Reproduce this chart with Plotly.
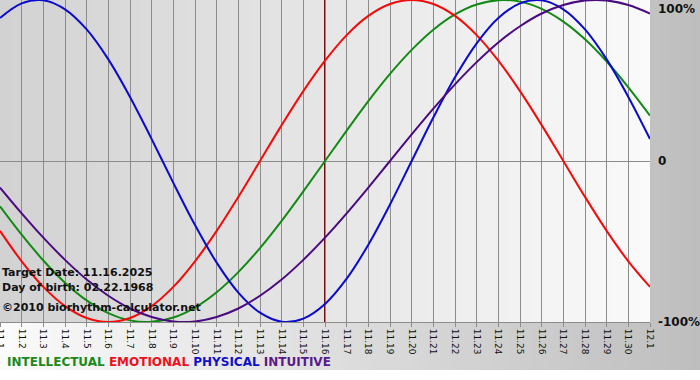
import plotly.graph_objects as go

# ---- data ----
dates = ["11.1", "11.2", "11.3", "11.4", "11.5", "11.6", "11.7", "11.8", "11.9", "11.10",
         "11.11", "11.12", "11.13", "11.14", "11.15", "11.16", "11.17", "11.18", "11.19", "11.20",
         "11.21", "11.22", "11.23", "11.24", "11.25", "11.26", "11.27", "11.28", "11.29", "11.30",
         "12.1"]

intellectual = [-28.2, -45.8, -61.8, -75.6, -86.6, -94.5, -99.0, -99.9, -97.2, -91.0, -81.5,
                -69.0, -54.1, -37.2, -18.9, 0.0, 18.9, 37.2, 54.1, 69.0, 81.5, 91.0, 97.2, 99.9,
                99.0, 94.5, 86.6, 75.6, 61.8, 45.8, 28.2]
emotional = [-43.4, -62.3, -78.2, -90.1, -97.5, -100.0, -97.5, -90.1, -78.2, -62.3, -43.4,
             -22.3, 0.0, 22.3, 43.4, 62.3, 78.2, 90.1, 97.5, 100.0, 97.5, 90.1, 78.2, 62.3,
             43.4, 22.3, 0.0, -22.3, -43.4, -62.3, -78.2]
physical = [88.8, 97.9, 99.8, 94.2, 81.7, 63.1, 39.8, 13.6, -13.6, -39.8, -63.1, -81.7, -94.2,
            -99.8, -97.9, -88.8, -73.1, -52.0, -27.0, 0.0, 27.0, 52.0, 73.1, 88.8, 97.9, 99.8,
            94.2, 81.7, 63.1, 39.8, 13.6]
intuitive = [-16.5, -32.5, -47.6, -61.4, -73.6, -83.7, -91.6, -96.9, -99.7, -99.7, -96.9,
             -91.6, -83.7, -73.6, -61.4, -47.6, -32.5, -16.5, 0.0, 16.5, 32.5, 47.6, 61.4,
             73.6, 83.7, 91.6, 96.9, 99.7, 99.7, 96.9, 91.6]

target_day = "11.16"
y_tick_vals = [100, 0, -100]
y_tick_text = ["100%", "0", "-100%"]

series = [
    ("INTELLECTUAL", intellectual, "#138a13"),
    ("EMOTIONAL", emotional, "#f50a0a"),
    ("PHYSICAL", physical, "#0a0ad0"),
    ("INTUITIVE", intuitive, "#4a0a80"),
]
legend_colors = {"INTELLECTUAL": "#1a8a1a", "EMOTIONAL": "#ee1020",
                 "PHYSICAL": "#1010c8", "INTUITIVE": "#5a1a8a"}

W, H = 700, 380
ML, MR, MT, MB = 0, 50, 0, 58
PW, PH = W - ML - MR, H - MT - MB

fig = go.Figure()
for name, vals, color in series:
    fig.add_trace(go.Scatter(
        x=dates, y=vals, mode="lines", name=name,
        line=dict(color=color, width=2, shape="spline", smoothing=1.0),
        showlegend=False, hoverinfo="skip"))

shapes = []
# outer background gradient (light on left -> grey on right)
n_out = 70
for i in range(n_out):
    c = round(251 - (251 - 190) * (i + 0.5) / n_out)
    shapes.append(dict(type="rect", xref="paper", yref="paper", layer="below",
                       x0=(i * 10) / PW, x1=((i + 1) * 10 + 1) / PW,
                       y0=-(370 - PH) / PH, y1=1.0,
                       fillcolor=f"rgb({c},{c},{c})", line=dict(width=0)))
# plot area gradient (grey on left -> near white on right)
n_in = 65
for i in range(n_in):
    c = round(210 + (250 - 210) * (i + 0.5) / n_in)
    shapes.append(dict(type="rect", xref="paper", yref="paper", layer="below",
                       x0=i / n_in, x1=min(1.0, (i + 1.1) / n_in), y0=0, y1=1,
                       fillcolor=f"rgb({c},{c},{c})", line=dict(width=0)))
# target day marker (category index on the x axis)
tx = dates.index(target_day)
shapes.append(dict(type="line", xref="x", yref="paper", layer="between",
                   x0=tx, x1=tx, y0=0, y1=1,
                   line=dict(color="#701010", width=2)))

annotations = []
for v, t in zip(y_tick_vals, y_tick_text):
    annotations.append(dict(x=1, xref="paper", y=v, yref="y", text="<b>" + t + "</b>",
                            showarrow=False, xanchor="left", xshift=6,
                            yanchor="top" if v == 100 else "middle",
                            font=dict(family="DejaVu Sans", size=12, color="#111111")))
info_lines = [("Target Date: 11.16.2025", 272), ("Day of birth: 02.22.1968", 287),
              ("\u00a92010 biorhythm-calculator.net", 307)]
for txt, py in info_lines:
    annotations.append(dict(x=0, xref="paper", y=(PH - py) / PH, yref="paper", text="<b>" + txt + "</b>",
                            showarrow=False, xanchor="left", yanchor="middle", xshift=0,
                            font=dict(family="DejaVu Sans", size=11, color="#111111")))
legend_txt = " ".join(f'<span style="color:{legend_colors[n]}">{n}</span>' for n, _, _ in series)
annotations.append(dict(x=0, xref="paper", y=(PH - 362) / PH, yref="paper", text="<b>" + legend_txt + "</b>",
                        showarrow=False, xanchor="left", yanchor="middle", xshift=5,
                        font=dict(family="DejaVu Sans", size=12)))

fig.update_layout(
    width=W, height=H,
    margin=dict(l=ML, r=MR, t=MT, b=MB, pad=0),
    paper_bgcolor="white", plot_bgcolor="rgba(0,0,0,0)",
    shapes=shapes, annotations=annotations,
    xaxis=dict(type="category", categoryorder="array", categoryarray=dates,
               range=[0, len(dates) - 1], tickmode="array", tickvals=dates, ticktext=dates,
               tickangle=90, showgrid=True, gridcolor="#8c8c8c", gridwidth=1,
               ticks="outside", ticklen=4, tickcolor="#8c8c8c", showline=True,
               linecolor="#8c8c8c", linewidth=1, zeroline=False, automargin=False,
               tickfont=dict(family="DejaVu Sans", size=9, color="#111111"), fixedrange=True),
    yaxis=dict(range=[-100, 100], showticklabels=False, showgrid=False, zeroline=True,
               zerolinecolor="#8c8c8c", zerolinewidth=1, automargin=False, fixedrange=True),
)

fig.write_html("out.html", config={"displayModeBar": False},
               post_script="document.body.style.margin='0';document.body.style.padding='0';")
